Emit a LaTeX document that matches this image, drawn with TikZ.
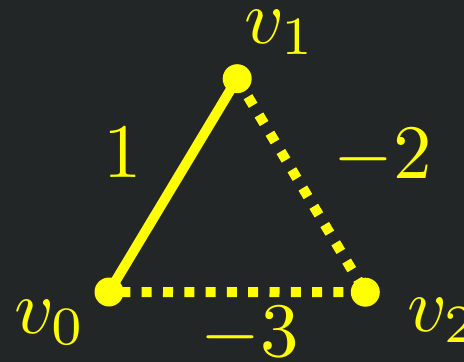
\documentclass[tikz,border=0pt]{standalone}
\usetikzlibrary{backgrounds}
\definecolor{bgc}{RGB}{34,38,39}
\definecolor{ylw}{RGB}{255,255,0}
\tikzset{
  vert/.style={circle,fill=ylw,draw=none,inner sep=0pt,minimum size=29pt},
  lbl/.style={text=ylw,inner sep=0pt,font=\normalsize,scale=7.7},
  solidedge/.style={draw=ylw,line width=10pt},
  dotedge/.style={draw=ylw,line width=10pt,dash pattern=on 10pt off 11.3pt}
}
\begin{document}
\begin{tikzpicture}[x=1pt,y=-1pt]
\useasboundingbox (0,0) rectangle (464,362);
\node[vert] (v0) at (109,292) {};
\node[vert] (v1) at (237.2,78.7) {};
\node[vert] (v2) at (365.3,292.2) {};
\node[lbl,anchor=base west] (l0) at (12.7,333) {$v_0$};
\node[lbl,anchor=base west] (l1) at (242.7,43) {$v_1$};
\node[lbl,anchor=base west] (l2) at (405.7,331) {$v_2$};
\node[lbl,anchor=base] (w01) at (122.5,177) {$1$};
\node[lbl,anchor=base] (w12) at (382.7,178) {$-2$};
\node[lbl,anchor=base] (w02) at (249.7,356.3) {$-3$};
\begin{pgfonlayer}{background}
\fill[bgc] (0,0) rectangle (464,362);
\draw[solidedge] (v0.center) -- (v1.center);
\draw[dotedge,dash phase=0.3pt] (v1.center) -- (v2.center);
\draw[dotedge,dash phase=9.9pt] (v0.center) -- (v2.center);
\end{pgfonlayer}
\end{tikzpicture}
\end{document}
